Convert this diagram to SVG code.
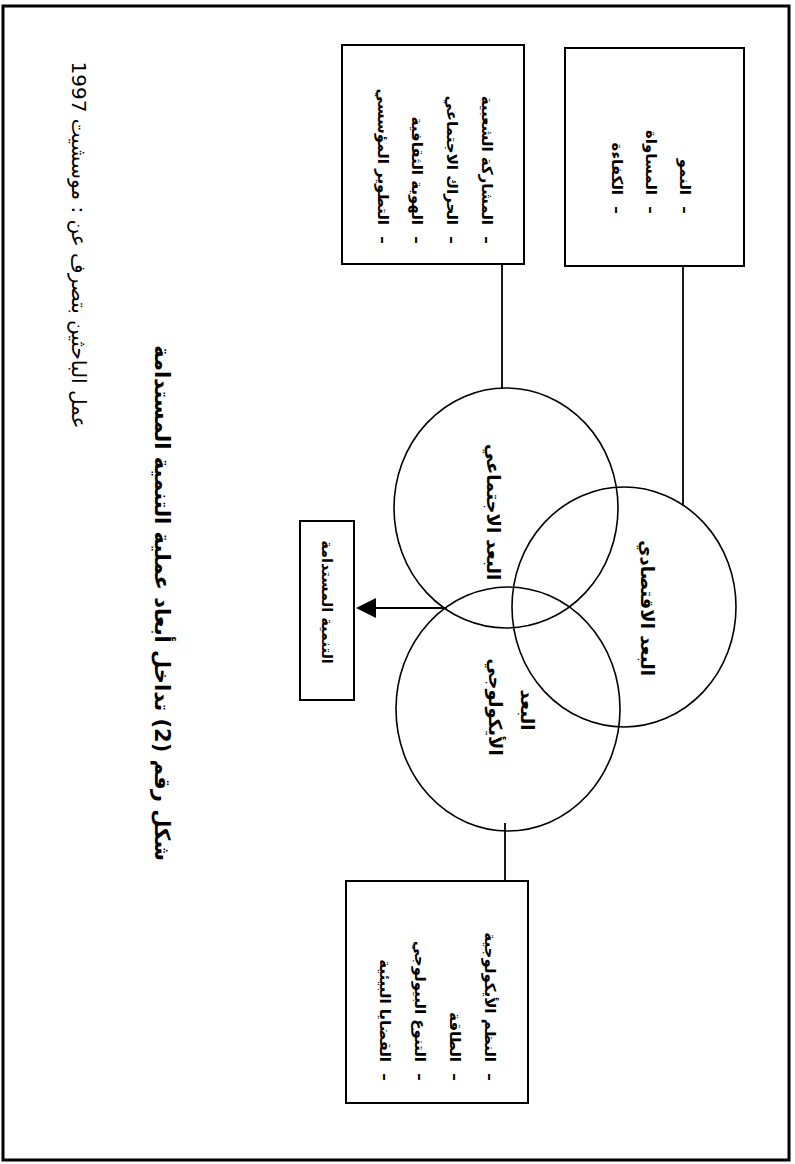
<svg xmlns="http://www.w3.org/2000/svg" width="795" height="1164" viewBox="0 0 795 1164">
  <style>
    .frame { fill: none; stroke: #000; stroke-width: 3; }
    .box { fill: #fff; stroke: #000; stroke-width: 2; }
    .ring { fill: none; stroke: #000; stroke-width: 1.6; }
    .link { fill: none; stroke: #000; stroke-width: 1.8; }
    text { font-family: "DejaVu Sans", "Noto Sans", sans-serif; fill: #000; }
    .item { font-size: 15px; font-weight: bold; }
    .label { font-size: 18px; font-weight: bold; }
    .outcome { font-size: 14.5px; font-weight: bold; }
    .title { font-size: 21px; font-weight: bold; }
    .source { font-size: 20px; }
  </style>
  <rect width="795" height="1164" fill="#fff"/>
  <rect class="frame" x="3" y="6" width="786" height="1154"/>

  <!-- connectors -->
  <g id="connectors">
    <line class="link" x1="683" y1="266" x2="683" y2="506"/>
    <line class="link" x1="502" y1="264" x2="502" y2="388"/>
    <line class="link" x1="505" y1="823" x2="505" y2="881"/>
    <line class="link" x1="447" y1="608" x2="376" y2="608"/>
    <path d="M376,598 L356,608 L376,618 Z" fill="#000"/>
  </g>

  <!-- economic list -->
  <g id="box-economic">
    <rect class="box" x="565" y="48" width="179" height="218"/>
    <g class="item">
      <text transform="translate(685,210) rotate(90)" text-anchor="middle" dominant-baseline="central">–</text>
      <text transform="translate(685,195) rotate(90)" direction="rtl" text-anchor="start" dominant-baseline="central">النمو</text>
      <text transform="translate(651,210) rotate(90)" text-anchor="middle" dominant-baseline="central">–</text>
      <text transform="translate(651,195) rotate(90)" direction="rtl" text-anchor="start" dominant-baseline="central">المساواة</text>
      <text transform="translate(617,210) rotate(90)" text-anchor="middle" dominant-baseline="central">–</text>
      <text transform="translate(617,195) rotate(90)" direction="rtl" text-anchor="start" dominant-baseline="central">الكفاءة</text>
    </g>
  </g>

  <!-- social list -->
  <g id="box-social">
    <rect class="box" x="342" y="45" width="182" height="219"/>
    <g class="item">
      <text transform="translate(487,240) rotate(90)" text-anchor="middle" dominant-baseline="central">–</text>
      <text transform="translate(487,225) rotate(90)" direction="rtl" text-anchor="start" dominant-baseline="central">المشاركة الشعبية</text>
      <text transform="translate(452,240) rotate(90)" text-anchor="middle" dominant-baseline="central">–</text>
      <text transform="translate(452,225) rotate(90)" direction="rtl" text-anchor="start" dominant-baseline="central">الحراك الاجتماعي</text>
      <text transform="translate(417,240) rotate(90)" text-anchor="middle" dominant-baseline="central">–</text>
      <text transform="translate(417,225) rotate(90)" direction="rtl" text-anchor="start" dominant-baseline="central">الهوية الثقافية</text>
      <text transform="translate(383,240) rotate(90)" text-anchor="middle" dominant-baseline="central">–</text>
      <text transform="translate(383,225) rotate(90)" direction="rtl" text-anchor="start" dominant-baseline="central">التطوير المؤسسي</text>
    </g>
  </g>

  <!-- ecological list -->
  <g id="box-ecological">
    <rect class="box" x="346" y="881" width="182" height="222"/>
    <g class="item">
      <text transform="translate(490,1077) rotate(90)" text-anchor="middle" dominant-baseline="central">–</text>
      <text transform="translate(490,1062) rotate(90)" direction="rtl" text-anchor="start" dominant-baseline="central">النظم الأيكولوجية</text>
      <text transform="translate(455,1077) rotate(90)" text-anchor="middle" dominant-baseline="central">–</text>
      <text transform="translate(455,1062) rotate(90)" direction="rtl" text-anchor="start" dominant-baseline="central">الطاقة</text>
      <text transform="translate(420,1077) rotate(90)" text-anchor="middle" dominant-baseline="central">–</text>
      <text transform="translate(420,1062) rotate(90)" direction="rtl" text-anchor="start" dominant-baseline="central">التنوع البيولوجي</text>
      <text transform="translate(385,1077) rotate(90)" text-anchor="middle" dominant-baseline="central">–</text>
      <text transform="translate(385,1062) rotate(90)" direction="rtl" text-anchor="start" dominant-baseline="central">القضايا البيئية</text>
    </g>
  </g>

  <!-- the three overlapping dimensions -->
  <g id="circle-social">
    <ellipse class="ring" cx="506" cy="508" rx="112" ry="120"/>
    <text class="label" transform="translate(493,512) rotate(90)" direction="rtl" text-anchor="middle" dominant-baseline="central">البعد الاجتماعي</text>
  </g>
  <g id="circle-economic">
    <ellipse class="ring" cx="624" cy="607" rx="112" ry="120"/>
    <text class="label" transform="translate(647,608) rotate(90)" direction="rtl" text-anchor="middle" dominant-baseline="central">البعد الاقتصادي</text>
  </g>
  <g id="circle-ecological">
    <ellipse class="ring" cx="508" cy="709" rx="112" ry="122"/>
    <text class="label" transform="translate(527,710) rotate(90)" direction="rtl" text-anchor="middle" dominant-baseline="central">البعد</text>
    <text class="label" transform="translate(495,707) rotate(90)" direction="rtl" text-anchor="middle" dominant-baseline="central" font-size="20">الأيكولوجي</text>
  </g>

  <!-- outcome -->
  <g id="box-outcome">
    <rect class="box" x="300" y="521" width="54" height="179"/>
    <text class="outcome" transform="translate(327,602) rotate(90)" direction="rtl" text-anchor="middle" dominant-baseline="central">التنمية المستدامة</text>
  </g>

  <!-- caption -->
  <g id="caption">
    <text class="title" transform="translate(162,603) rotate(90)" direction="rtl" text-anchor="middle" dominant-baseline="central">شكل رقم (2) تداخل أبعاد عملية التنمية المستدامة</text>
    <text class="source" transform="translate(79,245) rotate(90)" direction="rtl" text-anchor="middle" dominant-baseline="central">عمل الباحثين بتصرف عن : موسشيت 1997</text>
  </g>
</svg>
